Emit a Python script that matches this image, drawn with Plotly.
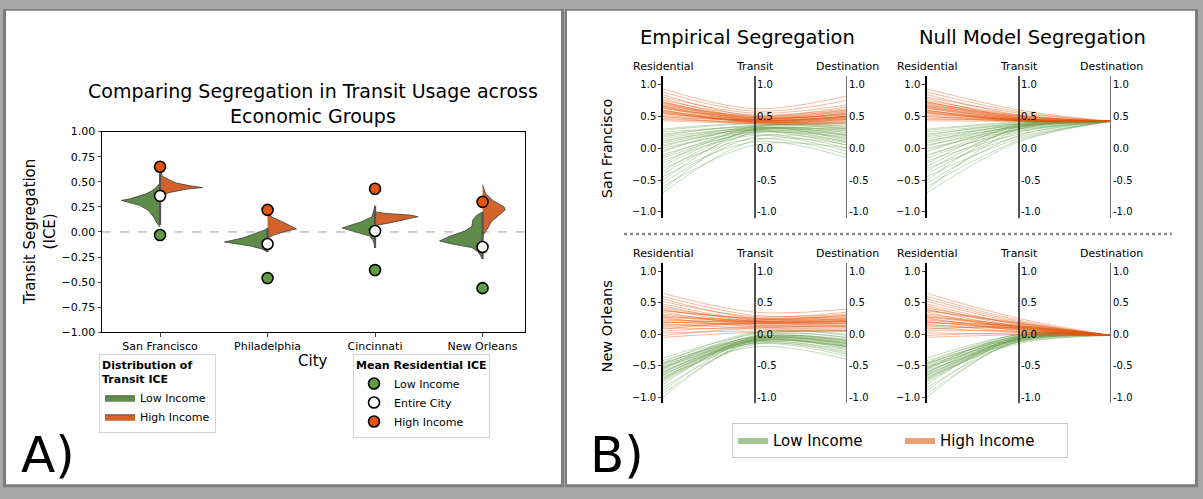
import plotly.graph_objects as go

W, H = 1203, 499

# ---------------- Panel A data ----------------
cities = ["San Francisco", "Philadelphia", "Cincinnati", "New Orleans"]
mean_low = [-0.03, -0.46, -0.38, -0.56]
mean_all = [0.36, -0.12, 0.01, -0.15]
mean_high = [0.65, 0.22, 0.43, 0.30]
inner_top = [0.62, 0.04, 0.26, 0.20]
inner_bottom = [0.07, -0.20, -0.16, -0.27]

# violin density profiles (ICE value, half width in category units)
sf_low_ice = [0.49, 0.45, 0.41, 0.38, 0.36, 0.33, 0.314, 0.295, 0.265, 0.216, 0.15, 0.09, 0.05]
sf_low_den = [0.0, 0.03, 0.075, 0.13, 0.19, 0.28, 0.36, 0.30, 0.19, 0.11, 0.06, 0.03, 0.0]
sf_high_ice = [0.62, 0.556, 0.54, 0.49, 0.46, 0.443, 0.427, 0.394, 0.37, 0.35]
sf_high_den = [0.0, 0.02, 0.05, 0.14, 0.28, 0.395, 0.25, 0.09, 0.03, 0.0]
ph_low_ice = [0.03, -0.01, -0.06, -0.10, -0.14, -0.17, -0.20]
ph_low_den = [0.0, 0.10, 0.23, 0.40, 0.16, 0.05, 0.0]
ph_high_ice = [0.20, 0.15, 0.10, 0.055, 0.03, 0.007, -0.026, -0.06]
ph_high_den = [0.0, 0.04, 0.14, 0.22, 0.27, 0.17, 0.07, 0.0]
ci_low_ice = [0.256, 0.15, 0.10, 0.07, 0.04, 0.006, -0.04, -0.09, -0.155]
ci_low_den = [0.0, 0.03, 0.13, 0.23, 0.305, 0.20, 0.05, 0.015, 0.0]
ci_high_ice = [0.20, 0.184, 0.168, 0.152, 0.136, 0.12, 0.097, 0.07, 0.055]
ci_high_den = [0.0, 0.10, 0.33, 0.40, 0.33, 0.27, 0.17, 0.03, 0.0]
no_low_ice = [0.20, 0.17, 0.12, 0.055, 0.006, -0.04, -0.09, -0.123, -0.155, -0.20, -0.27]
no_low_den = [0.0, 0.05, 0.09, 0.10, 0.17, 0.30, 0.40, 0.27, 0.10, 0.04, 0.0]
no_high_ice = [0.47, 0.38, 0.31, 0.25, 0.22, 0.17, 0.10, 0.04, -0.01, -0.04]
no_high_den = [0.0, 0.03, 0.10, 0.20, 0.21, 0.16, 0.08, 0.05, 0.02, 0.0]

low_profiles = [(sf_low_ice, sf_low_den), (ph_low_ice, ph_low_den),
                (ci_low_ice, ci_low_den), (no_low_ice, no_low_den)]
high_profiles = [(sf_high_ice, sf_high_den), (ph_high_ice, ph_high_den),
                 (ci_high_ice, ci_high_den), (no_high_ice, no_high_den)]

yticks_a = [-1.0, -0.75, -0.5, -0.25, 0.0, 0.25, 0.5, 0.75, 1.0]

# ---------------- Panel B data ----------------
stations = ["Residential", "Transit", "Destination"]
ticks_b = [-1.0, -0.5, 0.0, 0.5, 1.0]

sf_low_res = [0.28, 0.25, 0.22, 0.20, 0.18, 0.15, 0.12, 0.10, 0.08, 0.05, 0.03, 0.0, -0.03, -0.06, -0.10,
              -0.13, -0.16, -0.20, -0.24, -0.28, -0.32, -0.36, -0.40, -0.45, -0.50, -0.55, -0.60, -0.65, -0.70, 0.30]
sf_low_tra = [0.38, 0.35, 0.33, 0.36, 0.30, 0.32, 0.28, 0.34, 0.30, 0.27, 0.31, 0.25, 0.29, 0.33, 0.22,
              0.30, 0.26, 0.20, 0.35, 0.28, 0.15, 0.30, 0.24, 0.10, 0.32, 0.18, 0.05, 0.27, 0.12, 0.40]
sf_low_dst = [0.30, 0.40, 0.20, 0.35, 0.15, 0.28, 0.10, 0.32, 0.25, 0.05, 0.22, 0.18, 0.30, 0.12, 0.0,
              0.27, 0.20, -0.05, 0.33, 0.15, -0.10, 0.24, 0.10, -0.15, 0.30, 0.08, 0.0, 0.20, 0.05, 0.38]
sf_low_null_tra = [0.40, 0.38, 0.37, 0.39, 0.35, 0.36, 0.33, 0.38, 0.34, 0.30, 0.35, 0.28, 0.33, 0.36, 0.26,
                   0.34, 0.30, 0.22, 0.37, 0.30, 0.18, 0.32, 0.25, 0.15, 0.34, 0.20, 0.12, 0.30, 0.10, 0.41]
sf_high_res = [0.93, 0.88, 0.84, 0.80, 0.78, 0.75, 0.73, 0.71, 0.70, 0.68, 0.66, 0.65, 0.63, 0.62, 0.60,
               0.58, 0.57, 0.55, 0.54, 0.52, 0.50, 0.49, 0.47, 0.45, 0.43, 0.67, 0.64, 0.59, 0.56, 0.72]
sf_high_tra = [0.62, 0.58, 0.50, 0.55, 0.47, 0.52, 0.45, 0.48, 0.44, 0.50, 0.43, 0.46, 0.42, 0.48, 0.41,
               0.45, 0.40, 0.44, 0.43, 0.42, 0.38, 0.45, 0.40, 0.42, 0.39, 0.47, 0.44, 0.41, 0.43, 0.50]
sf_high_dst = [0.82, 0.75, 0.60, 0.68, 0.55, 0.62, 0.50, 0.58, 0.48, 0.60, 0.45, 0.55, 0.47, 0.52, 0.44,
               0.50, 0.40, 0.53, 0.48, 0.46, 0.38, 0.57, 0.42, 0.50, 0.41, 0.54, 0.49, 0.45, 0.50, 0.65]
sf_high_null_tra = [0.60, 0.57, 0.52, 0.55, 0.48, 0.52, 0.47, 0.50, 0.46, 0.50, 0.45, 0.48, 0.44, 0.47, 0.43,
                    0.46, 0.43, 0.45, 0.44, 0.43, 0.42, 0.45, 0.43, 0.44, 0.42, 0.49, 0.46, 0.44, 0.45, 0.51]
sf_null_dst = 0.42

no_low_res = [-0.38, -0.42, -0.45, -0.47, -0.50, -0.52, -0.54, -0.56, -0.58, -0.60, -0.62, -0.64, -0.66, -0.68, -0.70,
              -0.72, -0.74, -0.76, -0.80, -0.85, -0.90, -0.95, -1.00, -0.46, -0.55, -0.61, -0.48, -0.65, -0.71, -0.53]
no_low_tra = [0.0, -0.05, 0.03, -0.08, -0.10, -0.04, -0.12, -0.06, -0.15, -0.09, -0.02, -0.11, -0.07, -0.20, -0.05,
              -0.13, -0.08, -0.10, -0.03, -0.16, -0.06, -0.12, -0.09, -0.07, 0.02, -0.11, -0.04, -0.14, -0.08, -0.10]
no_low_dst = [0.05, -0.10, 0.0, -0.15, -0.20, -0.08, -0.25, -0.12, -0.35, -0.18, -0.05, -0.22, -0.14, -0.40, -0.10,
              -0.28, -0.16, -0.20, -0.06, -0.30, -0.12, -0.24, -0.18, -0.13, -0.02, -0.20, -0.09, -0.32, -0.15, -0.19]
no_low_null_tra = [-0.01, -0.04, 0.0, -0.06, -0.08, -0.03, -0.10, -0.05, -0.13, -0.07, -0.02, -0.09, -0.06, -0.15, -0.04,
                   -0.11, -0.07, -0.08, -0.03, -0.12, -0.05, -0.10, -0.08, -0.06, 0.0, -0.09, -0.03, -0.12, -0.07, -0.08]
no_high_res = [0.65, 0.60, 0.56, 0.52, 0.48, 0.45, 0.42, 0.40, 0.37, 0.35, 0.32, 0.30, 0.28, 0.26, 0.24,
               0.22, 0.20, 0.18, 0.16, 0.14, 0.12, 0.10, 0.08, 0.05, 0.02, -0.02, -0.05, 0.38, 0.27, 0.19]
no_high_tra = [0.35, 0.30, 0.25, 0.28, 0.22, 0.20, 0.24, 0.18, 0.26, 0.15, 0.21, 0.19, 0.23, 0.12, 0.17,
               0.20, 0.14, 0.22, 0.10, 0.18, 0.16, 0.08, 0.20, 0.12, 0.05, 0.10, 0.03, 0.25, 0.20, 0.17]
no_high_dst = [0.40, 0.32, 0.25, 0.35, 0.20, 0.22, 0.30, 0.18, 0.28, 0.12, 0.24, 0.20, 0.27, 0.10, 0.15,
               0.22, 0.13, 0.25, 0.08, 0.20, 0.17, 0.06, 0.23, 0.14, 0.05, 0.12, 0.05, 0.30, 0.21, 0.18]
no_high_null_tra = [0.25, 0.22, 0.20, 0.18, 0.15, 0.12, 0.16, 0.10, 0.17, 0.08, 0.13, 0.11, 0.14, 0.06, 0.09,
                    0.12, 0.07, 0.13, 0.04, 0.10, 0.08, 0.03, 0.11, 0.05, 0.0, 0.02, -0.01, 0.18, 0.12, 0.09]
no_null_dst = -0.02

# ---------------- styles ----------------
FONT = "DejaVu Sans"
V_GREEN = "#5f8c4b"
V_ORANGE = "#d3622b"
P_GREEN = "#5f9a45"
P_ORANGE = "#e6550d"
L_GREEN = "rgba(102,157,75,0.36)"
L_ORANGE = "rgba(230,85,13,0.40)"


def px(x):
    return x / W


def py(y):
    return 1 - y / H


fig = go.Figure()

# ---------------- Panel A traces ----------------
for i, (ice, den) in enumerate(low_profiles):
    fig.add_trace(go.Scatter(
        x=[i - d for d in den], y=ice, mode="lines", fill="toself",
        fillcolor=V_GREEN, line=dict(color="#3d3d3d", width=0.8),
        name="Low Income", legend="legend", showlegend=(i == 0),
        legendgroup="vl", xaxis="x", yaxis="y", hoverinfo="skip"))
for i, (ice, den) in enumerate(high_profiles):
    fig.add_trace(go.Scatter(
        x=[i + d for d in den], y=ice, mode="lines", fill="toself",
        fillcolor=V_ORANGE, line=dict(color="#3d3d3d", width=0.8),
        name="High Income", legend="legend", showlegend=(i == 0),
        legendgroup="vh", xaxis="x", yaxis="y", hoverinfo="skip"))

for i in range(len(cities)):
    fig.add_trace(go.Scatter(
        x=[i, i], y=[inner_top[i], inner_bottom[i]], mode="lines",
        line=dict(color="#555555", width=2.2), showlegend=False,
        xaxis="x", yaxis="y", hoverinfo="skip"))

idx = list(range(len(cities)))
for vals, col, nm in [(mean_low, P_GREEN, "Low Income"),
                      (mean_all, "white", "Entire City"),
                      (mean_high, P_ORANGE, "High Income")]:
    fig.add_trace(go.Scatter(
        x=idx, y=vals, mode="markers", name=nm, legend="legend2",
        marker=dict(size=11, color=col, line=dict(color="black", width=1.6)),
        xaxis="x", yaxis="y"))

# ---------------- Panel B traces ----------------
panels = [
    ("x2", "y2", sf_low_res, sf_low_tra, sf_low_dst, sf_high_res, sf_high_tra, sf_high_dst),
    ("x3", "y3", sf_low_res, sf_low_null_tra, [sf_null_dst] * len(sf_low_res),
     sf_high_res, sf_high_null_tra, [sf_null_dst] * len(sf_high_res)),
    ("x4", "y4", no_low_res, no_low_tra, no_low_dst, no_high_res, no_high_tra, no_high_dst),
    ("x5", "y5", no_low_res, no_low_null_tra, [no_null_dst] * len(no_low_res),
     no_high_res, no_high_null_tra, [no_null_dst] * len(no_high_res)),
]
xpos = [0, 1, 2]
for xa, ya, lr, lt, ld, hr, ht, hd in panels:
    for r, t, d in zip(lr, lt, ld):
        fig.add_trace(go.Scatter(x=xpos, y=[r, t, d], mode="lines",
                                 line=dict(color=L_GREEN, width=1, shape="spline", smoothing=1.0),
                                 showlegend=False, xaxis=xa, yaxis=ya, hoverinfo="skip"))
    for r, t, d in zip(hr, ht, hd):
        fig.add_trace(go.Scatter(x=xpos, y=[r, t, d], mode="lines",
                                 line=dict(color=L_ORANGE, width=1, shape="spline", smoothing=1.0),
                                 showlegend=False, xaxis=xa, yaxis=ya, hoverinfo="skip"))

# legend entries for panel B
fig.add_trace(go.Scatter(x=[None], y=[None], mode="lines", fill="toself",
                         fillcolor="rgba(102,157,75,0.6)", line=dict(width=0, color="rgba(102,157,75,0.6)"),
                         name="Low Income", legend="legend3", xaxis="x2", yaxis="y2"))
fig.add_trace(go.Scatter(x=[None], y=[None], mode="lines", fill="toself",
                         fillcolor="rgba(230,97,17,0.6)", line=dict(width=0, color="rgba(230,97,17,0.6)"),
                         name="High Income", legend="legend3", xaxis="x2", yaxis="y2"))

# ---------------- layout ----------------
def fmt_a(v):
    return f"{v:.2f}".replace("-", "\u2212")


def fmt_b(v, minus):
    s = f"{v:.1f}"
    return s.replace("-", minus)


layout = dict(
    width=W, height=H, margin=dict(l=0, r=0, t=0, b=0),
    paper_bgcolor="#a8a8a8", plot_bgcolor="rgba(0,0,0,0)",
    font=dict(family=FONT, color="black", size=11),
    xaxis=dict(domain=[px(102), px(525)], range=[-0.54, 3.395], tickvals=idx, ticktext=cities,
               showline=True, mirror=True, linecolor="black", linewidth=1, ticks="outside",
               ticklen=3.5, showgrid=False, zeroline=False, tickfont=dict(size=11), anchor="y"),
    yaxis=dict(domain=[py(335), py(129)], range=[-1, 1], tickvals=yticks_a,
               ticktext=[fmt_a(v) for v in yticks_a], showline=True, mirror=True,
               linecolor="black", linewidth=1, ticks="outside", ticklen=3.5,
               showgrid=False, zeroline=False, tickfont=dict(size=11), anchor="x"),
    legend=dict(x=px(99), y=py(357), xanchor="left", yanchor="top", bgcolor="white",
                bordercolor="#d6d6d6", borderwidth=1, font=dict(size=11),
                title=dict(text="<b>Distribution of<br>Transit ICE</b>", font=dict(size=11)),
                tracegroupgap=0),
    legend2=dict(x=px(353), y=py(357), xanchor="left", yanchor="top", bgcolor="white",
                 bordercolor="#d6d6d6", borderwidth=1, font=dict(size=11),
                 title=dict(text="<b>Mean Residential ICE</b>", font=dict(size=11)),
                 tracegroupgap=0),
    legend3=dict(x=px(732), y=py(428), xanchor="left", yanchor="top", bgcolor="white",
                 bordercolor="#cccccc", borderwidth=1, font=dict(size=15),
                 orientation="h", entrywidth=122, entrywidthmode="pixels"),
)

b_x_domains = {"x2": [663, 847], "x3": [927, 1111], "x4": [663, 847], "x5": [927, 1111]}
b_y_domains = {"y2": [72, 218], "y3": [72, 218], "y4": [264, 408], "y5": [264, 408]}
for n in range(2, 6):
    xa, ya = f"x{n}", f"y{n}"
    xd = b_x_domains[xa]
    yd = b_y_domains[ya]
    layout[f"xaxis{n}"] = dict(domain=[px(xd[0]), px(xd[1])], range=[0, 2], visible=False,
                               anchor=ya)
    layout[f"yaxis{n}"] = dict(domain=[py(yd[1]), py(yd[0])], range=[-1.1, 1.13],
                               tickvals=ticks_b, ticktext=[fmt_b(v, "\u2212") for v in ticks_b],
                               showline=True, linecolor="black", linewidth=1.5, ticks="outside",
                               ticklen=3, showgrid=False, zeroline=False,
                               tickfont=dict(size=10), anchor=xa)

fig.update_layout(**layout)

# ---------------- shapes ----------------
shapes = [
    dict(type="rect", xref="paper", yref="paper", x0=px(3), x1=px(564), y0=py(494), y1=py(3),
         fillcolor="#7d7d7d", line=dict(width=0), layer="below"),
    dict(type="rect", xref="paper", yref="paper", x0=px(6), x1=px(561), y0=py(491), y1=py(5),
         fillcolor="white", line=dict(width=0), layer="below"),
    dict(type="rect", xref="paper", yref="paper", x0=px(565), x1=px(1198), y0=py(494), y1=py(3),
         fillcolor="#7d7d7d", line=dict(width=0), layer="below"),
    dict(type="rect", xref="paper", yref="paper", x0=px(567), x1=px(1195), y0=py(491), y1=py(5),
         fillcolor="white", line=dict(width=0), layer="below"),
    dict(type="line", xref="x domain", yref="y", x0=0, x1=1, y0=0, y1=0,
         line=dict(color="#a0a0a0", width=1, dash="dash"), layer="below"),
    dict(type="line", xref="paper", yref="paper", x0=px(624), x1=px(1172), y0=py(234), y1=py(234),
         line=dict(color="#8a8a8a", width=2.5, dash="dot")),
]
for n in range(2, 6):
    shapes.append(dict(type="line", xref=f"x{n}", yref=f"y{n} domain", x0=1, x1=1, y0=0, y1=1,
                       line=dict(color="#1a1a1a", width=1.5)))
    shapes.append(dict(type="line", xref=f"x{n}", yref=f"y{n} domain", x0=2, x1=2, y0=0, y1=1,
                       line=dict(color="#6e6e6e", width=2)))
fig.update_layout(shapes=shapes)

# ---------------- annotations ----------------
ann = [
    dict(text="Comparing Segregation in Transit Usage across<br>Economic Groups", x=px(313), y=py(100),
         xref="paper", yref="paper", showarrow=False, font=dict(size=19), xanchor="center", yanchor="middle"),
    dict(text="Transit Segregation<br>(ICE)", x=px(40), y=py(232), xref="paper", yref="paper",
         showarrow=False, textangle=-90, font=dict(size=15), xanchor="center", yanchor="middle"),
    dict(text="City", x=px(313), y=py(364), xref="paper", yref="paper", showarrow=False,
         font=dict(size=15), xanchor="center", yanchor="middle"),
    dict(text="A)", x=px(48), y=py(461), xref="paper", yref="paper", showarrow=False,
         font=dict(size=50), xanchor="center", yanchor="middle"),
    dict(text="B)", x=px(617), y=py(461), xref="paper", yref="paper", showarrow=False,
         font=dict(size=50), xanchor="center", yanchor="middle"),
    dict(text="Empirical Segregation", x=px(747), y=py(32), xref="paper", yref="paper", showarrow=False,
         font=dict(size=19.5), xanchor="center", yanchor="middle"),
    dict(text="Null Model Segregation", x=px(1032), y=py(32), xref="paper", yref="paper", showarrow=False,
         font=dict(size=19.5), xanchor="center", yanchor="middle"),
    dict(text="San Francisco", x=px(607), y=py(146), xref="paper", yref="paper", showarrow=False,
         textangle=-90, font=dict(size=14.5), xanchor="center", yanchor="middle"),
    dict(text="New Orleans", x=px(607), y=py(329), xref="paper", yref="paper", showarrow=False,
         textangle=-90, font=dict(size=14.5), xanchor="center", yanchor="middle"),
]
for n in range(2, 6):
    for k, s in enumerate(stations):
        ann.append(dict(text=s, x=k, y=1, xref=f"x{n}", yref=f"y{n} domain", showarrow=False,
                        font=dict(size=11), xanchor="center", yanchor="bottom", yshift=1))
    for k in (1, 2):
        for v in ticks_b:
            ann.append(dict(text=fmt_b(v, "-"), x=k, y=v, xref=f"x{n}", yref=f"y{n}",
                            showarrow=False, font=dict(size=10), xanchor="left",
                            yanchor="middle", xshift=0))
fig.update_layout(annotations=ann)

fig.write_html("out.html", config={"displayModeBar": False},
               post_script="document.body.style.margin='0';document.body.style.overflow='hidden';")
